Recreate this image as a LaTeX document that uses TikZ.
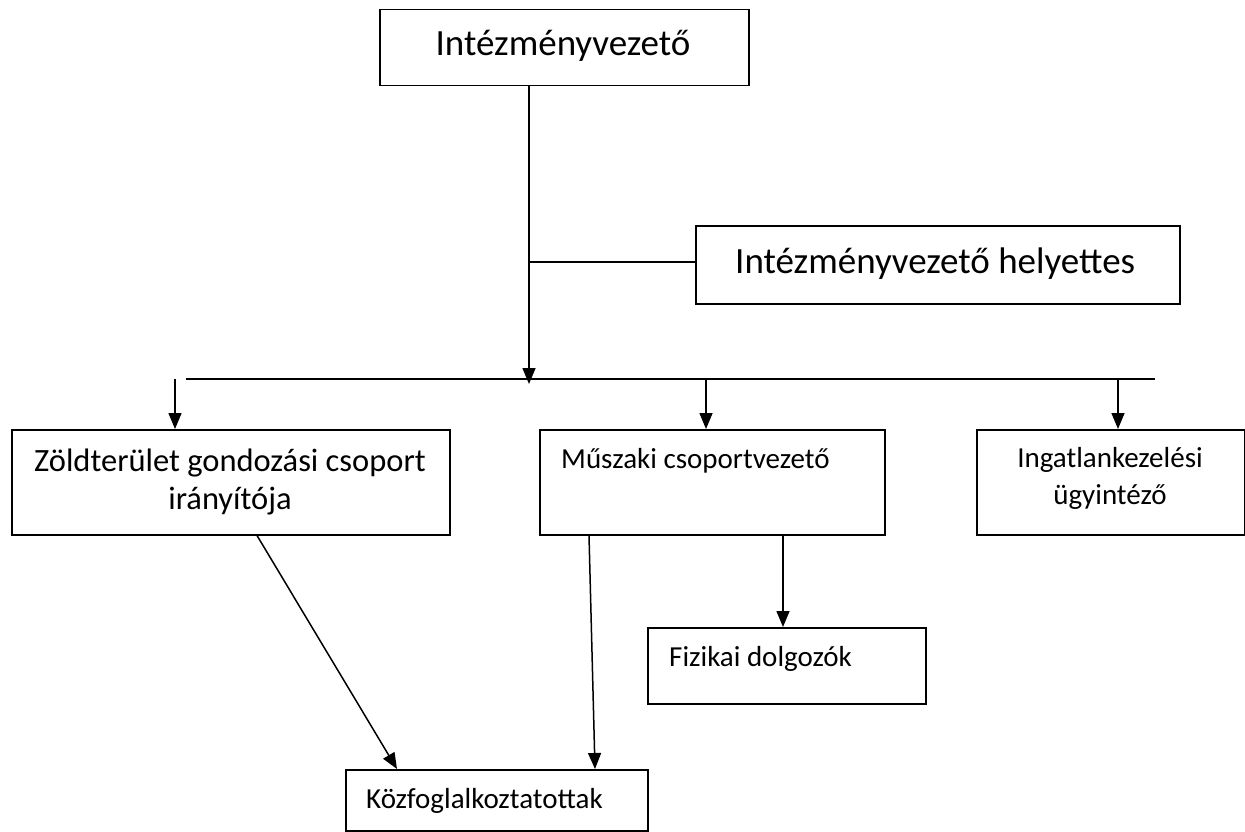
\documentclass[tikz,border=0pt]{standalone}
\usepackage{fontspec}
\setmainfont{Carlito}
\usetikzlibrary{arrows.meta,calc}
\begin{document}
\begin{tikzpicture}[x=1pt,y=-1pt,
  box/.style={draw,line width=1.5pt,inner sep=0pt,anchor=north west},
  conn/.style={line width=1.5pt},
  arr/.style={line width=1.5pt,-{Triangle[length=16pt,width=13pt]}},
  big/.style={font=\fontsize{37}{44}\selectfont,inner sep=0pt},
  small/.style={font=\fontsize{29}{37}\selectfont,inner sep=0pt},
  mid/.style={font=\fontsize{32.5}{39}\selectfont,inner sep=0pt}]
\useasboundingbox (0,0) rectangle (1245,832);
% boxes
\node[box,minimum width=369pt,minimum height=76pt] (top) at (379,9) {};
\node[box,minimum width=484pt,minimum height=78pt] (dep) at (695,225) {};
\node[box,minimum width=438pt,minimum height=105pt] (zold) at (11,429) {};
\node[box,minimum width=345pt,minimum height=105pt] (musz) at (539,429) {};
\node[box,minimum width=268pt,minimum height=105pt] (ingat) at (976,429) {};
\node[box,minimum width=278pt,minimum height=76pt] (fiz) at (647,627) {};
\node[box,minimum width=302pt,minimum height=61pt] (kozf) at (345,769) {};
% texts
\node[big,anchor=base] (topt) at (563,56) {Intézményvezető};
\node[big,anchor=base west] (dept) at (735,273) {Intézményvezető helyettes};
\node[mid,anchor=base] (zold1) at (230,471) {Zöldterület gondozási csoport};
\node[mid,anchor=base] (zold2) at (230,509) {irányítója};
\node[small,anchor=base west] (muszt) at (561,468) {Műszaki csoportvezető};
\node[small,anchor=base] (ingat1) at (1110,467) {Ingatlankezelési};
\node[small,anchor=base] (ingat2) at (1110,504) {ügyintéző};
\node[small,anchor=base west] (fizt) at (669,666) {Fizikai dolgozók};
\node[small,anchor=base west] (kozft) at (366,808) {Közfoglalkoztatottak};
% coordinates
\coordinate (vtip) at (529,384);
\coordinate (br) at (529,262);
\coordinate (busL) at (186,379);
\coordinate (busR) at (1155,379);
\coordinate (d1) at (175,379);
\coordinate (d2) at (706,379);
\coordinate (d3) at (1118,379);
% connectors
\draw[arr] (top.south -| vtip) -- (vtip);
\draw[conn] (br) -- (br -| dep.west);
\draw[conn] (busL) -- (busR);
\draw[arr] (d1) -- (d1 |- zold.north);
\draw[arr] (d2) -- (d2 |- musz.north);
\draw[arr] (d3) -- (d3 |- ingat.north);
\draw[arr] ($(zold.south west)+(246,0)$) -- ($(kozf.north west)+(52,0)$);
\draw[arr] ($(musz.south west)+(50,0)$) -- ($(kozf.north west)+(250,0)$);
\draw[arr] ($(musz.south west)+(244,0)$) -- ($(fiz.north west)+(136,0)$);
\end{tikzpicture}
\end{document}
